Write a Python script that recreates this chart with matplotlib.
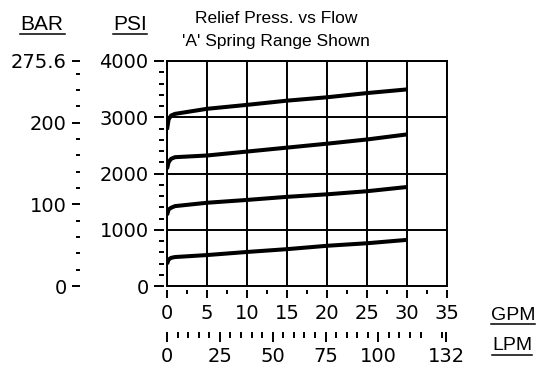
import matplotlib
matplotlib.use('Agg')
import matplotlib.pyplot as plt
from matplotlib.lines import Line2D
from matplotlib.ticker import MultipleLocator, FixedLocator

W, H = 538, 370

# flow (GPM) and relief pressure (PSI) for the four springs
gpm = [0, 0.2, 0.5, 1, 5, 10, 15, 20, 25, 30]
psi_a = [2780, 2960, 3030, 3060, 3150, 3220, 3295, 3355, 3430, 3495]
psi_b = [2080, 2200, 2260, 2290, 2320, 2390, 2460, 2530, 2605, 2695]
psi_c = [1260, 1360, 1390, 1420, 1480, 1530, 1585, 1630, 1685, 1760]
psi_d = [390, 470, 500, 515, 550, 605, 655, 715, 760, 820]

psi_ticks = [0, 1000, 2000, 3000, 4000]
bar_ticks = [0, 100, 200, 275.6]
gpm_ticks = [0, 5, 10, 15, 20, 25, 30, 35]
lpm_ticks = [0, 25, 50, 75, 100, 132]

PSI_PER_BAR = 4000 / 275.6
LPM_PER_GPM = 3.785

TICK_FONT = 'DejaVu Sans'
TICK_SIZE = 14
LABEL_FONT = 'Liberation Sans'


def fx(x):
    return x / W


def fy(y):
    return 1 - y / H


# plot box in pixels
L, R, T, B = 167, 447, 61, 286
axw = R - L
axh = B - T

fig = plt.figure(figsize=(W / 100, H / 100), dpi=100)
ax = fig.add_axes([fx(L), fy(B), axw / W, axh / H])
ax.set_xlim(0, 35)
ax.set_ylim(0, 4000)
ax.set_xticks(gpm_ticks)
ax.set_yticks(psi_ticks)
ax.tick_params(length=0, labelbottom=False, labelleft=False)
ax.grid(True, color='black', lw=1.4)
for s in ax.spines.values():
    s.set_linewidth(1.4)

for psi in [psi_a, psi_b, psi_c, psi_d]:
    ax.plot(gpm, psi, color='black', lw=2.9, solid_capstyle='butt', zorder=3)


def style_labels(labels):
    for lab in labels:
        lab.set_fontfamily(TICK_FONT)
        lab.set_fontsize(TICK_SIZE)


# PSI axis
sp = ax.secondary_yaxis(-3.5 / axw)
sp.spines['left'].set_visible(False)
sp.set_yticks(psi_ticks, [str(v) for v in psi_ticks])
sp.yaxis.set_minor_locator(MultipleLocator(200))
sp.tick_params(which='major', length=7.2, width=1.4, pad=3.6)
sp.tick_params(which='minor', length=3.6, width=1.4)
style_labels(sp.get_yticklabels())

# BAR axis
sb = ax.secondary_yaxis((80 - L) / axw,
                        functions=(lambda p: p / PSI_PER_BAR, lambda b: b * PSI_PER_BAR))
sb.spines['left'].set_visible(False)
sb.set_yticks(bar_ticks, ['0', '100', '200', '275.6'])
sb.yaxis.set_minor_locator(FixedLocator([v for v in range(20, 275, 20) if v % 100]))
sb.tick_params(which='major', length=5.8, width=1.4, pad=3.6)
sb.tick_params(which='minor', length=2.9, width=1.4)
style_labels(sb.get_yticklabels())

# GPM axis
sg = ax.secondary_xaxis(-(290 - B) / axh)
sg.spines['bottom'].set_visible(False)
sg.set_xticks(gpm_ticks)
sg.xaxis.set_minor_locator(MultipleLocator(2.5))
sg.tick_params(which='major', length=5.8, width=1.4, pad=4)
sg.tick_params(which='minor', length=2.9, width=1.4)
style_labels(sg.get_xticklabels())

# LPM axis
sl = ax.secondary_xaxis(-(332 - B) / axh,
                        functions=(lambda g: g * LPM_PER_GPM, lambda l: l / LPM_PER_GPM))
sl.spines['bottom'].set_visible(False)
sl.set_xticks(lpm_ticks)
sl.xaxis.set_minor_locator(FixedLocator([v for v in range(5, 131, 5) if v % 25]))
sl.tick_params(which='major', length=7.2, width=1.4, pad=3.5)
sl.tick_params(which='minor', length=4, width=1.4)
style_labels(sl.get_xticklabels())


def underlined(text, x0, base, x1, uy, size=15):
    fig.text(fx(x0), fy(base), text, ha='left', va='baseline',
             fontfamily=LABEL_FONT, fontsize=size)
    fig.add_artist(Line2D([fx(x0), fx(x1)], [fy(uy), fy(uy)], color='black', lw=1.1))


underlined('BAR', 20, 30, 65, 33.5)
underlined('PSI', 113, 30, 147, 33.5)
underlined('GPM', 491, 320, 535, 323.5, size=14)
underlined('LPM', 492, 350, 532, 354.5, size=14)

fig.text(fx(276), fy(23), 'Relief Press. vs Flow', ha='center', va='baseline',
         fontfamily=LABEL_FONT, fontsize=12.5)
fig.text(fx(276), fy(46), "'A' Spring Range Shown", ha='center', va='baseline',
         fontfamily=LABEL_FONT, fontsize=12.5)

fig.savefig('out.png', dpi=100, facecolor='white')
